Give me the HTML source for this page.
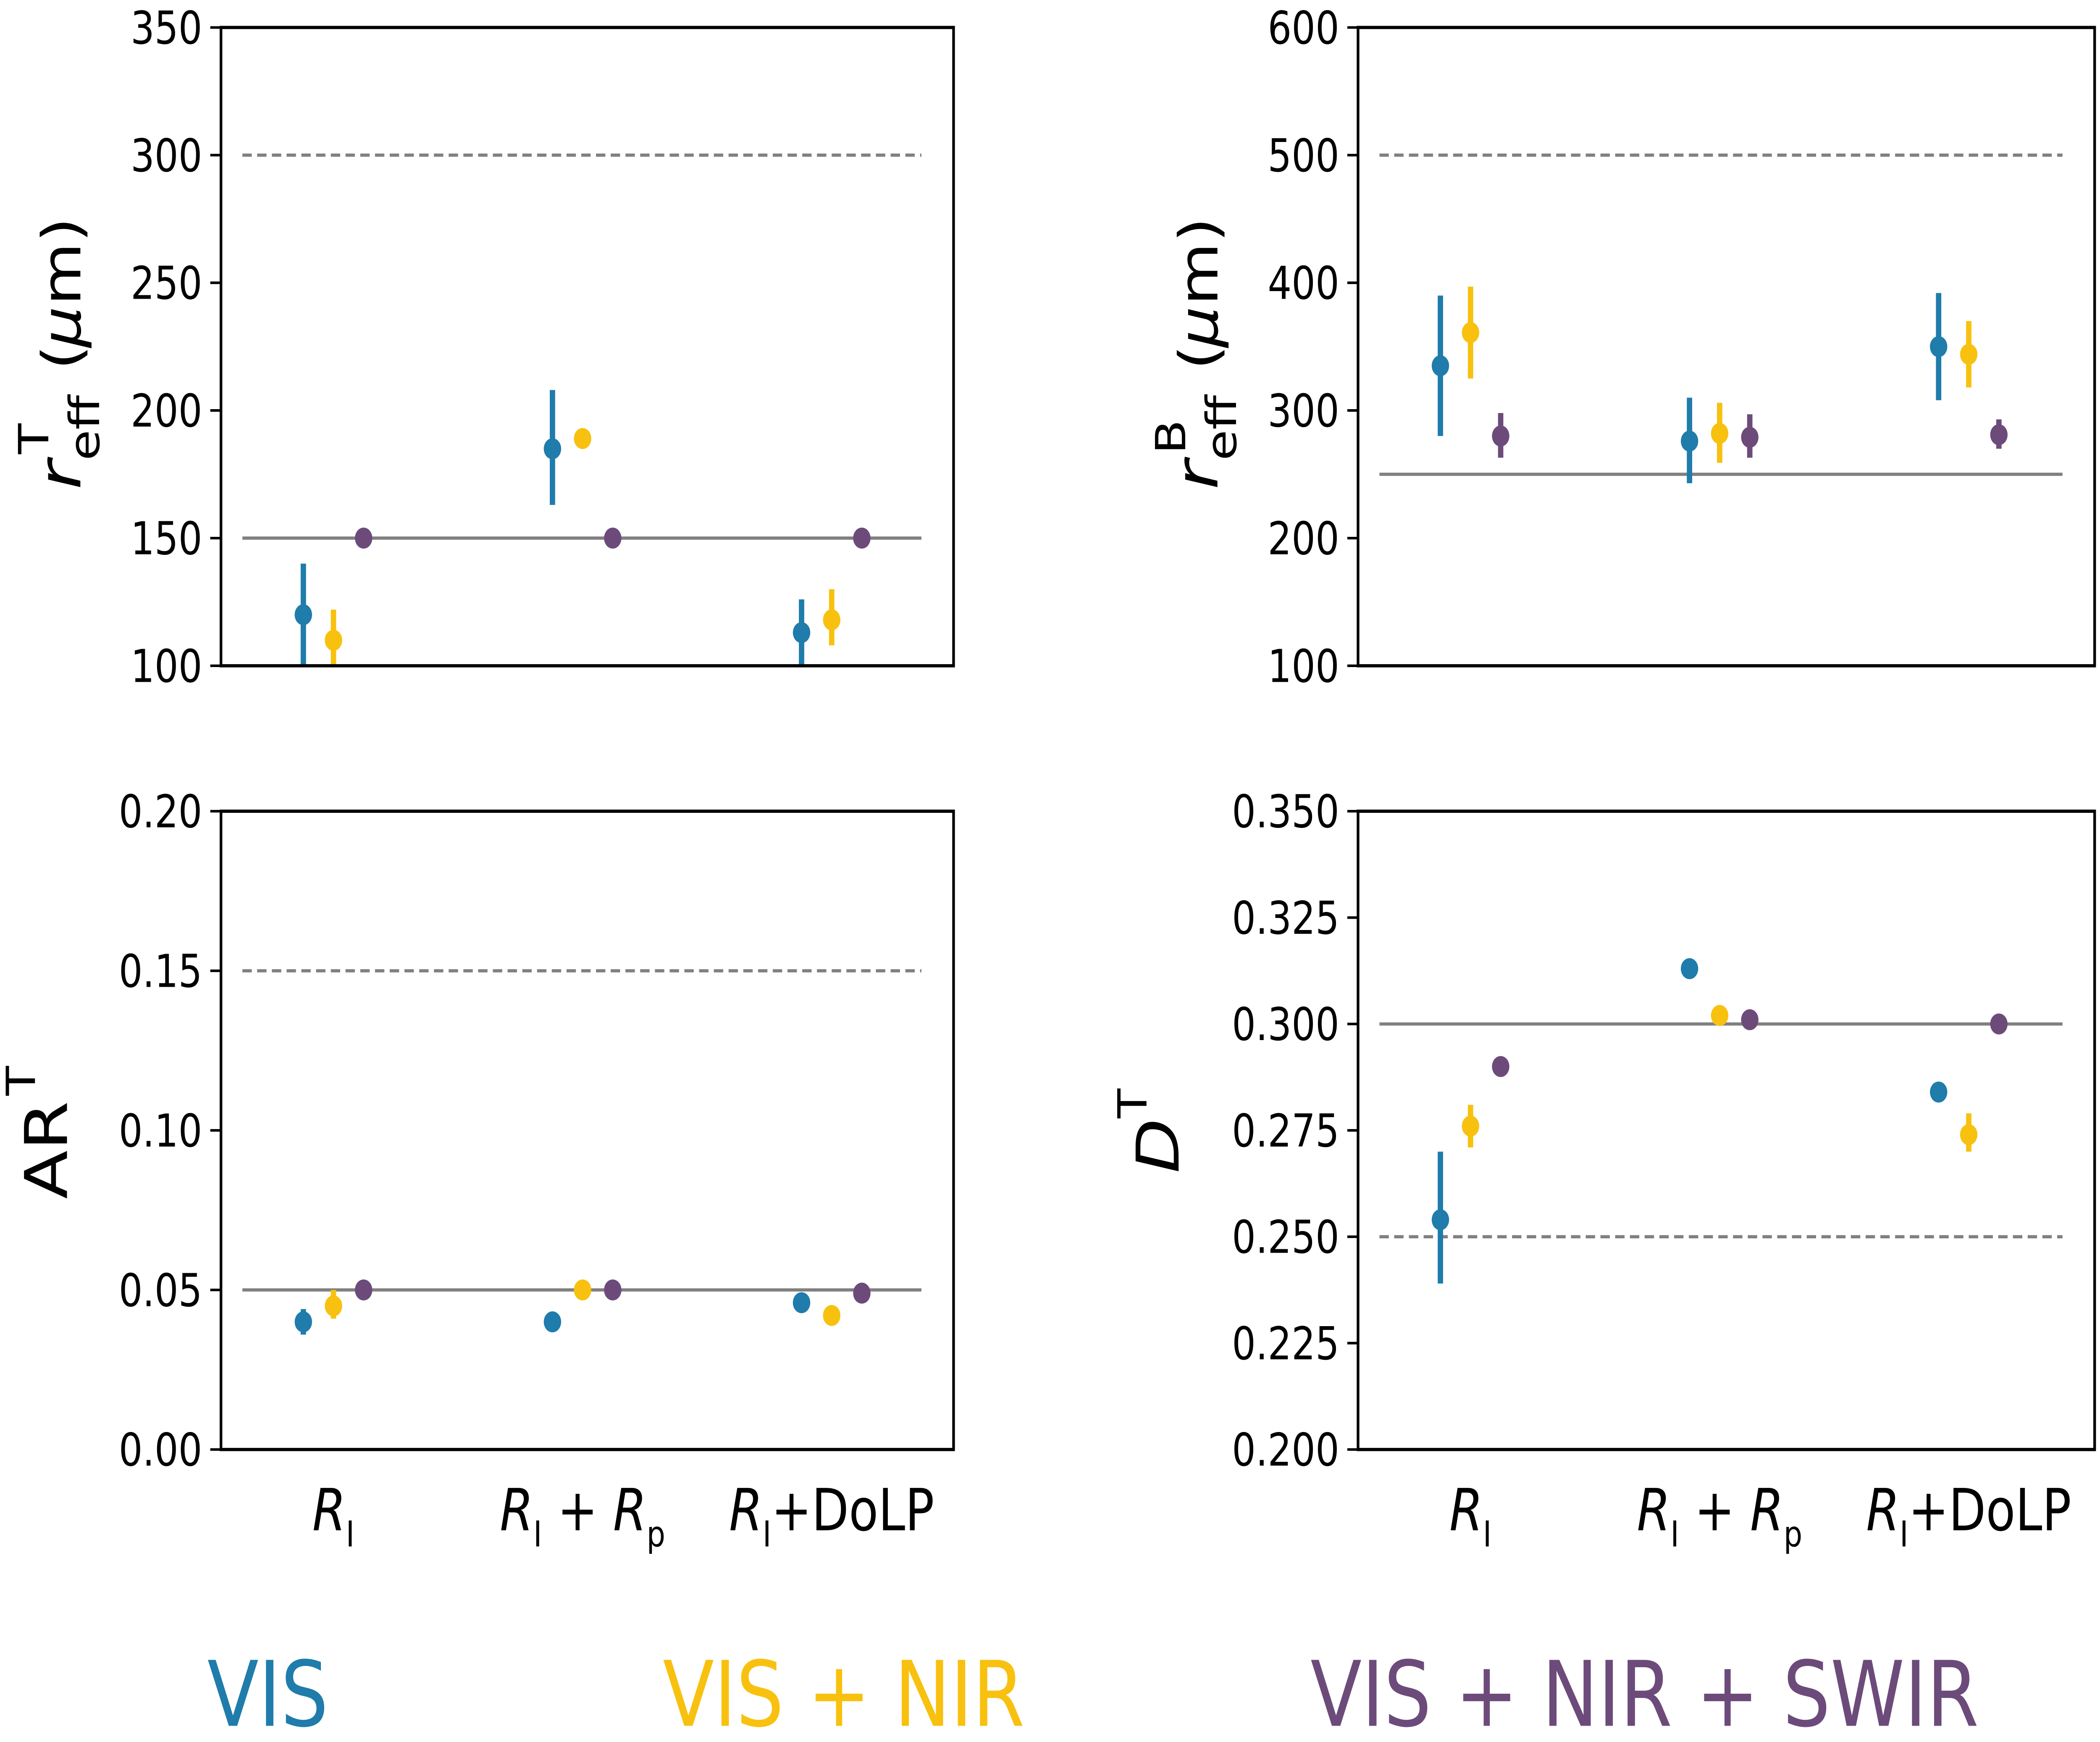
<!DOCTYPE html>
<html><head><meta charset="utf-8"><style>
html,body{margin:0;padding:0;background:#fff;overflow:hidden;width:100%;height:100%}
svg{display:block;width:100vw;height:100vh}
text{font-family:"DejaVu Sans","Liberation Sans",sans-serif}
</style></head><body>
<svg id="fig" xmlns="http://www.w3.org/2000/svg" viewBox="0 0 1568 1078" preserveAspectRatio="none">
<rect width="1568" height="1078" fill="#fff"/>
<g id="plots"></g>
<g transform="translate(48,215) rotate(-90)">
  <text x="-88" y="12" font-size="44" font-style="italic">r</text>
  <text x="-70" y="26" font-size="31">eff</text>
  <text x="-66" y="-12" font-size="31">T</text>
  <text x="-14" y="12" font-size="40">(</text>
  <text x="0" y="12" font-size="40" font-style="italic">μ</text>
  <text x="26" y="12" font-size="40">m)</text>
</g>
<g transform="translate(897,215) rotate(-90)">
  <text x="-88" y="12" font-size="44" font-style="italic">r</text>
  <text x="-70" y="26" font-size="31">eff</text>
  <text x="-66" y="-12" font-size="31">B</text>
  <text x="-14" y="12" font-size="40">(</text>
  <text x="0" y="12" font-size="40" font-style="italic">μ</text>
  <text x="26" y="12" font-size="40">m)</text>
</g>
<g transform="translate(50,700) rotate(-90)">
  <text x="-42" y="0" font-size="44">AR</text>
  <text x="22" y="-24" font-size="30">T</text>
</g>
<g transform="translate(880,700) rotate(-90)">
  <text x="-26" y="0" font-size="44" font-style="italic">D</text>
  <text x="8" y="-24" font-size="30">T</text>
</g>
<g font-size="56">
  <text x="200" y="1068" text-anchor="middle" fill="#1f7cab">VIS</text>
  <text x="630" y="1068" text-anchor="middle" fill="#f8c10f">VIS + NIR</text>
  <text x="1228" y="1068" text-anchor="middle" fill="#6c4b7a">VIS + NIR + SWIR</text>
</g>
</svg>
<script>
const categories=["R_I","R_I+R_p","R_I+DoLP"];
const seriesNames=["VIS","VIS+NIR","VIS+NIR+SWIR"];
const colors=["#1f7cab","#f8c10f","#6c4b7a"];
const p1Vals=[[120,185,113],[110,189,118],[150,150,150]];
const p1Lo=[[100,163,100],[100,189,108],[150,150,150]];
const p1Hi=[[140,208,126],[122,189,130],[150,150,150]];
const p1Ref=[300,150];
const p1Ticks=["100","150","200","250","300","350"];
const p2Vals=[[335,276,350],[361,282,344],[280,279,281]];
const p2Lo=[[280,243,308],[325,259,318],[263,263,270]];
const p2Hi=[[390,310,392],[397,306,370],[298,297,293]];
const p2Ref=[500,250];
const p2Ticks=["100","200","300","400","500","600"];
const p3Vals=[[0.040,0.040,0.046],[0.045,0.050,0.042],[0.050,0.050,0.049]];
const p3Lo=[[0.036,0.040,0.046],[0.041,0.050,0.042],[0.050,0.050,0.049]];
const p3Hi=[[0.044,0.040,0.046],[0.050,0.050,0.042],[0.050,0.050,0.049]];
const p3Ref=[0.15,0.05];
const p3Ticks=["0.00","0.05","0.10","0.15","0.20"];
const p4Vals=[[0.254,0.313,0.284],[0.276,0.302,0.274],[0.290,0.301,0.300]];
const p4Lo=[[0.239,0.313,0.284],[0.271,0.302,0.270],[0.290,0.301,0.300]];
const p4Hi=[[0.270,0.313,0.284],[0.281,0.302,0.279],[0.290,0.301,0.300]];
const p4Ref=[0.25,0.30];
const p4Ticks=["0.200","0.225","0.250","0.275","0.300","0.325","0.350"];

const NS="http://www.w3.org/2000/svg";
const root=document.getElementById("plots");
function mk(tag,attrs,parent){const e=document.createElementNS(NS,tag);for(const k in attrs)e.setAttribute(k,attrs[k]);parent.appendChild(e);return e;}

function panel(name,x0,x1,y0,y1,ticks,vals,lo,hi,ref,xlabels,xc0){
  const g=mk("g",{},root);
  
  
  const tv=ticks.map(Number);const ymin=tv[0],ymax=tv[tv.length-1];
  const Y=v=>y1-(v-ymin)/(ymax-ymin)*(y1-y0);
  const X=(c,s)=>xc0+c*186+(s-1)*22.5;
  ticks.forEach((t,i)=>{
    const yy=Y(tv[i]);
    const l=mk("line",{x1:x0-8,x2:x0,y1:yy,y2:yy,stroke:"#000","stroke-width":1.6},g);
    
    
    const tx=mk("text",{x:x0-14,y:yy+10,"font-size":28,"text-anchor":"end"},g);
    
    
    tx.textContent=t;
  });
  const d=mk("line",{x1:x0+16,x2:x1-24,y1:Y(ref[0]),y2:Y(ref[0]),stroke:"#808080","stroke-width":2,"stroke-dasharray":"7,4"},g);
  
  
  const s=mk("line",{x1:x0+16,x2:x1-24,y1:Y(ref[1]),y2:Y(ref[1]),stroke:"#808080","stroke-width":2},g);
  
  
  const cid=name+"-clip";
  const cp=mk("clipPath",{id:cid},g);mk("rect",{x:x0,y:y0,width:x1-x0,height:y1-y0},cp);
  const dg=mk("g",{"clip-path":"url(#"+cid+")"},g);
  for(let si=0;si<3;si++)for(let c=0;c<3;c++){
    const xx=X(c,si);
    if(hi[si][c]!==lo[si][c]){
      const e=mk("line",{x1:xx,x2:xx,y1:Y(lo[si][c]),y2:Y(hi[si][c]),stroke:colors[si],"stroke-width":4},dg);
      
      
    }
    const p=mk("circle",{cx:xx,cy:Y(vals[si][c]),r:6.5,fill:colors[si]},dg);
    
    
  }
  const fr=mk("rect",{x:x0,y:y0,width:x1-x0,height:y1-y0,fill:"none",stroke:"#000","stroke-width":2},g);
  
  
  if(xlabels){
    const labs=[
      '<tspan font-style="italic">R</tspan><tspan font-size="22" dy="10">I</tspan>',
      '<tspan font-style="italic">R</tspan><tspan font-size="22" dy="10">I</tspan><tspan dy="-10"> + </tspan><tspan font-style="italic">R</tspan><tspan font-size="22" dy="10">p</tspan>',
      '<tspan font-style="italic">R</tspan><tspan font-size="22" dy="10">I</tspan><tspan dy="-10">+DoLP</tspan>'];
    for(let c=0;c<3;c++){
      const t=mk("text",{x:xc0+c*186,y:947,"font-size":36,"text-anchor":"middle"},g);
      
      
      t.innerHTML=labs[c];
    }
  }
}
panel("panel-reff-top",165,712,17,412,p1Ticks,p1Vals,p1Lo,p1Hi,p1Ref,false,249);
panel("panel-reff-bottom",1014,1564,17,412,p2Ticks,p2Vals,p2Lo,p2Hi,p2Ref,false,1098);
panel("panel-ar",165,712,502,897,p3Ticks,p3Vals,p3Lo,p3Hi,p3Ref,true,249);
panel("panel-d",1014,1564,502,897,p4Ticks,p4Vals,p4Lo,p4Hi,p4Ref,true,1098);
</script>
</body></html>
